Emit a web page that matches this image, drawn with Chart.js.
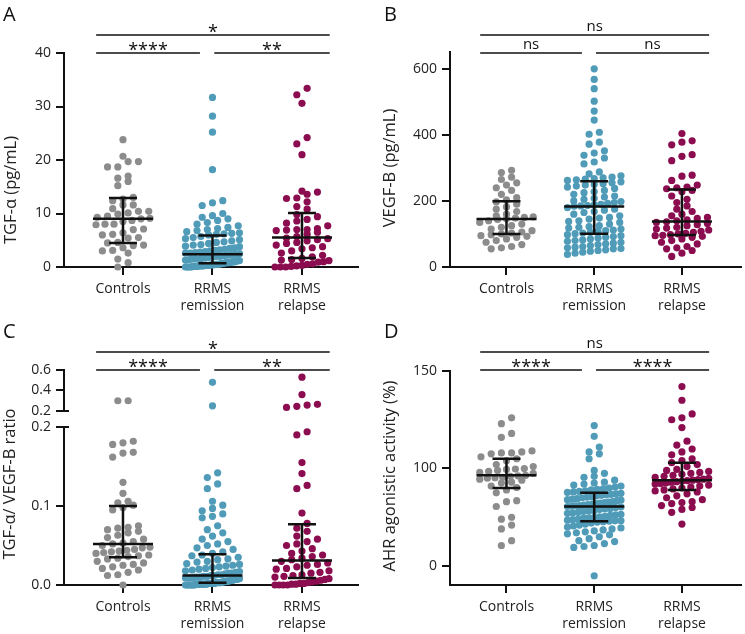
<!DOCTYPE html>
<html>
<head>
<meta charset="utf-8">
<script src="https://cdn.jsdelivr.net/npm/chart.js@4.4.0/dist/chart.umd.min.js"></script>
<style>
  body { margin: 0; background: #fff; }
  #wrap { position: relative; width: 745px; height: 634px; }
  .panel { position: absolute; }
</style>
</head>
<body>
<div id="wrap">
  <div class="panel" style="left:0;top:0;width:372px;height:317px"><canvas id="chartA"></canvas></div>
  <div class="panel" style="left:372px;top:0;width:373px;height:317px"><canvas id="chartB"></canvas></div>
  <div class="panel" style="left:0;top:317px;width:372px;height:317px"><canvas id="chartC"></canvas></div>
  <div class="panel" style="left:372px;top:317px;width:373px;height:317px"><canvas id="chartD"></canvas></div>
</div>
<script>
Chart.defaults.font.family = "'Open Sans', sans-serif";

// Groups on the x axis
const categories = ['Controls', ['RRMS', 'remission'], ['RRMS', 'relapse']];
const groupColors = ['#8c8c8c', '#4f9bb8', '#8b0d50'];

// A: TGF-alpha (pg/mL)
const tgfControls = [23.8, 20.7, 19.7, 19.7, 18.7, 18.7, 17.0, 16.6, 16.0, 15.2, 13.0, 12.7, 12.4, 11.6, 11.6, 10.9,
  10.4, 10.4, 10.1, 9.9, 9.5, 9.3, 9.1, 9.0, 8.7, 8.5, 8.0, 8.0, 7.9, 7.1, 7.0, 6.4, 6.1, 6.0, 5.5, 5.4, 4.6, 4.5,
  4.1, 4.0, 3.6, 3.1, 3.0, 2.6, 1.5, 0.8, 0.0];
const tgfRemission = [31.7, 28.2, 25.2, 18.2, 12.4, 12.0, 11.5, 10.0, 9.6, 9.3, 9.0, 8.7, 8.3, 8.0, 7.7, 7.4, 7.2,
  7.0, 6.8, 6.6, 6.4, 6.3, 6.2, 6.1, 6.0,
  5.7, 5.5, 5.3, 5.1, 4.9, 4.7, 4.6, 4.4, 4.2, 4.1, 3.9, 3.8, 3.6, 3.5, 3.3, 3.2, 3.1, 3.0, 2.9, 2.8, 2.7, 2.6, 2.6, 2.5, 2.4,
  2.3, 2.2, 2.1, 2.0, 2.0, 1.9, 1.8, 1.7, 1.6, 1.5, 1.5, 1.4, 1.3, 1.2, 1.2, 1.1, 1.0, 1.0, 0.9, 0.9, 0.8, 0.8, 0.8, 0.7, 0.7,
  0.6, 0.6, 0.5, 0.5, 0.5, 0.4, 0.4, 0.4, 0.3, 0.3, 0.3, 0.3, 0.2, 0.2, 0.2, 0.2, 0.1, 0.1, 0.1, 0.1, 0.0, 0.0, 0.0, 0.0, 0.0];
const tgfRelapse = [33.4, 32.2, 30.6, 24.2, 23.0, 21.0, 14.2, 14.0, 13.6, 12.9, 12.8, 12.2, 11.3, 10.8,
  9.8, 9.4, 8.9, 8.6, 8.2, 7.7, 7.2, 7.0, 7.0, 6.9, 6.8, 6.5, 6.1, 5.7,
  5.4, 5.3, 5.1, 4.9, 4.6, 4.4, 4.1, 3.8, 3.6, 3.4, 3.0, 2.6, 2.2, 1.9,
  1.6, 1.4, 1.3, 1.2, 1.0, 0.9, 0.6, 0.5, 0.3, 0.2, 0.1, 0.0, 0.0, 0.0];
const tgfMedian = [9.0, 2.4, 5.5];
const tgfQ1 = [4.5, 0.7, 1.7];
const tgfQ3 = [12.9, 5.9, 10.1];
const tgfTicks = [0, 10, 20, 30, 40];
const tgfSig = ['*', '****', '**'];

// B: VEGF-B (pg/mL)
const vegfControls = [293, 286, 272, 265, 255, 248, 240, 232, 220, 210, 203,
  197, 190, 182, 175, 168, 160, 155, 152, 150, 148, 146,
  144, 140, 135, 130, 125, 120, 115, 110, 106, 103, 100,
  98, 95, 93, 90, 85, 80, 75, 68, 62, 58, 55];
const vegfRemission = [600, 568, 540, 502, 472, 445, 408, 402, 378, 372, 352, 345, 338, 330, 318, 312, 288, 282,
  276, 272, 270, 268, 266, 264, 262,
  258, 255, 252, 250, 248, 245, 242, 238, 232, 228, 225, 220, 215, 212, 208, 205, 200, 198, 195, 193, 190, 188, 186, 185, 184,
  180, 175, 172, 168, 165, 160, 155, 150, 148, 145, 140, 138, 135, 130, 125, 122, 120, 118, 115, 112, 110, 108, 105, 103, 101,
  98, 95, 92, 90, 88, 85, 82, 80, 78, 75, 72, 70, 68, 65, 62, 60, 58, 56, 55, 52, 50, 48, 45, 42, 38];
const vegfRelapse = [404, 382, 378, 370, 340, 335, 322, 278, 275, 262, 248, 242, 240, 237,
  232, 228, 215, 205, 195, 185, 175, 168, 160, 155, 150, 147, 143, 140,
  137, 135, 132, 128, 125, 120, 118, 115, 112, 108, 105, 102, 100, 98,
  96, 95, 93, 90, 85, 80, 75, 70, 62, 58, 55, 50, 42, 32];
const vegfMedian = [145, 183, 138];
const vegfQ1 = [100, 101, 97];
const vegfQ3 = [199, 260, 235];
const vegfTicks = [0, 200, 400, 600];
const vegfSig = ['ns', 'ns', 'ns'];

// C: TGF-alpha / VEGF-B ratio (broken axis)
const ratioControls = [0.30, 0.30, 0.182, 0.180, 0.178, 0.168, 0.167, 0.162, 0.130, 0.116, 0.106, 0.104, 0.101,
  0.098, 0.095, 0.075, 0.073, 0.072, 0.070, 0.068, 0.066, 0.063, 0.060, 0.058, 0.055, 0.053,
  0.052, 0.050, 0.048, 0.047, 0.045, 0.044, 0.043, 0.042, 0.041, 0.040, 0.038, 0.037, 0.036,
  0.034, 0.033, 0.030, 0.028, 0.026, 0.025, 0.023, 0.021, 0.019, 0.016, 0.013, 0.012, 0.000];
const ratioRemission = [0.48, 0.25, 0.142, 0.136, 0.128, 0.122, 0.106, 0.101, 0.097, 0.094, 0.090, 0.087, 0.085,
  0.075, 0.070, 0.066, 0.062, 0.058, 0.055, 0.052, 0.050, 0.047, 0.045, 0.042, 0.040,
  0.038, 0.037, 0.035, 0.033, 0.032, 0.030, 0.029, 0.027, 0.026, 0.025, 0.024, 0.023, 0.022, 0.021, 0.020, 0.019,
  0.018, 0.017, 0.016, 0.015, 0.015, 0.014, 0.013, 0.013, 0.012,
  0.012, 0.011, 0.011, 0.010, 0.010, 0.009, 0.009, 0.009, 0.008, 0.008, 0.007, 0.007, 0.007, 0.006, 0.006, 0.006,
  0.005, 0.005, 0.005, 0.004, 0.004, 0.004, 0.003, 0.003, 0.003,
  0.003, 0.003, 0.002, 0.002, 0.002, 0.002, 0.002, 0.002, 0.001, 0.001, 0.001, 0.001, 0.001, 0.001, 0.001, 0.001,
  0.001, 0.000, 0.000, 0.000, 0.000, 0.000, 0.000, 0.000, 0.000];
const ratioRelapse = [0.53, 0.36, 0.265, 0.258, 0.245, 0.235, 0.194, 0.190, 0.155, 0.141, 0.126, 0.122, 0.091, 0.078,
  0.072, 0.068, 0.062, 0.058, 0.055, 0.052, 0.050, 0.046, 0.043, 0.040, 0.038, 0.036, 0.034, 0.032,
  0.030, 0.028, 0.026, 0.025, 0.023, 0.021, 0.020, 0.018, 0.016, 0.015, 0.013, 0.012, 0.011, 0.010,
  0.008, 0.007, 0.006, 0.005, 0.004, 0.003, 0.002, 0.002, 0.001, 0.001, 0.000, 0.000, 0.000, 0.000];
const ratioMedian = [0.052, 0.012, 0.031];
const ratioQ1 = [0.035, 0.003, 0.009];
const ratioQ3 = [0.100, 0.039, 0.077];
const ratioTicks = [0, 0.1, 0.2];
const ratioTicksUpper = [0.2, 0.4, 0.6];
const ratioSig = ['*', '****', '**'];

// D: AHR agonistic activity (%)
const ahrControls = [126, 123, 118, 116, 109, 108.5, 108, 108, 107.5, 106, 105,
  104, 102, 101, 100, 99.5, 99, 98, 97, 96, 95, 93,
  92.5, 92, 91, 90.5, 90, 89, 88, 86, 85, 82, 80.5,
  78, 75, 67, 66, 61, 50, 48, 42, 38, 26, 21];
const ahrRemission = [122, 116.5, 111, 108.5, 107.5, 105, 98, 95, 92, 91, 88, 86, 85, 84, 83, 82, 81, 80, 79, 78.5,
  78, 77, 76.5, 76, 75.5,
  74.5, 74, 73.5, 73, 72.5, 72, 71, 70.5, 70, 69, 68.5, 68, 67.5, 67, 66, 65.5, 65, 64.5, 64, 63.5, 63, 62.5, 62, 61.8, 61.5,
  61, 60.5, 60, 59, 58.5, 58, 57, 56.5, 56, 55, 54.5, 54, 53, 52.5, 52, 51, 50.5, 50, 49.5, 49, 48, 47.5, 47, 46.5, 46.3,
  46, 45.5, 45, 44, 43, 42, 41, 40, 39, 38, 37, 36, 35, 34, 33, 32, 30, 28, 26, 25, 23, 21, 20, 19, -10];
const ahrRelapse = [142, 135, 128, 126, 125, 121, 114, 112, 110, 108.5, 107, 105, 104, 103,
  102, 101, 99, 98, 97, 96, 95, 94, 93, 92, 91, 90, 89, 88.5,
  88, 87.5, 87, 86.5, 86, 85, 84.5, 84, 83, 82, 81, 80, 79, 78,
  77, 76, 74, 72, 70, 68, 66, 65, 64, 62, 60, 58, 55, 43];
const ahrMedian = [93, 61, 88];
const ahrQ1 = [80, 46, 78];
const ahrQ3 = [105, 75, 103];
const ahrTicks = [0, 100, 150];
const ahrSig = ['ns', '****', '****'];

// broken axis of C: 0-0.2 at full scale, a gap, then 0.2-0.6 squeezed
const ratioGap = 0.0203, ratioSqueeze = 0.1297;
const ratioUpper = v => 0.2 + ratioGap + (v - 0.2) * ratioSqueeze;
const ratioAxis = v => (v <= 0.2 ? v : ratioUpper(v));
// D axis: 0-100 on one scale, 100-150 stretched twice as much
const ahrAxis = v => (v <= 100 ? v : 100 + (v - 100) * 2);

// GraphPad-like scatter: values within one dot height go side by side in a row
function swarm(vals, pxPerY, pxPerX, center) {
  const dotGap = 10.3, maxSpread = 27, rowHeight = 6.5;
  const order = vals.map((v, i) => i).sort((a, b) => vals[a] - vals[b]);
  const off = new Array(vals.length).fill(0);
  let row = [], base = null;
  const place = () => {
    const n = row.length;
    const step = n > 1 ? Math.min(dotGap, 2 * maxSpread / (n - 1)) : 0;
    row.forEach((k, j) => { off[k] = (j - (n - 1) / 2) * step; });
    row = [];
  };
  order.forEach(k => {
    const py = vals[k] * pxPerY;
    if (base === null || py - base > rowHeight) { place(); base = py; }
    row.push(k);
  });
  place();
  return vals.map((v, i) => ({ x: center + off[i] / pxPerX, y: v }));
}

function panelExtras(p) {
  const tf = p.toAxis || (v => v);
  return {
    id: 'panelExtras',
    afterDatasetsDraw(chart) {
      const c = chart.ctx, xs = chart.scales.x, ys = chart.scales.y;
      c.save();
      c.strokeStyle = '#111';
      c.lineWidth = 2.5;
      for (let i = 0; i < 3; i++) {
        const cx = xs.getPixelForValue(i);
        const m = ys.getPixelForValue(tf(p.median[i]));
        const lo = ys.getPixelForValue(tf(p.q1[i]));
        const hi = ys.getPixelForValue(tf(p.q3[i]));
        c.beginPath();
        c.moveTo(cx - 30, m); c.lineTo(cx + 30, m);
        c.moveTo(cx, lo); c.lineTo(cx, hi);
        c.moveTo(cx - 14, lo); c.lineTo(cx + 14, lo);
        c.moveTo(cx - 14, hi); c.lineTo(cx + 14, hi);
        c.stroke();
      }
      c.restore();
    },
    afterDraw(chart) {
      const c = chart.ctx, xs = chart.scales.x, ys = chart.scales.y, area = chart.chartArea;
      c.save();
      // significance bars
      c.strokeStyle = '#111';
      c.fillStyle = '#111';
      c.lineWidth = 1.6;
      c.textAlign = 'center';
      c.textBaseline = 'alphabetic';
      const spans = [[-0.3, 2.31, 35], [-0.3, 0.86, 53], [1.02, 2.31, 53]];
      spans.forEach(([a, b, y], k) => {
        const x1 = xs.getPixelForValue(a), x2 = xs.getPixelForValue(b);
        c.beginPath(); c.moveTo(x1, y); c.lineTo(x2, y); c.stroke();
        if (p.sig[k] === 'ns') {
          c.font = "15px 'Open Sans'";
          c.fillText('ns', (x1 + x2) / 2, y - 4);
        } else {
          c.font = "18px 'Open Sans'";
          c.fillText(p.sig[k], (x1 + x2) / 2, y + 3);
        }
      });

      // broken y axis
      if (p.upperTicks) {
        const x = area.left;
        const yUp = ys.getPixelForValue(ratioUpper(0.2));
        const yLow = ys.getPixelForValue(0.2);
        c.lineWidth = 2;
        c.beginPath();
        c.moveTo(x, area.top - 1); c.lineTo(x, yUp);
        c.moveTo(x - 1, yUp); c.lineTo(x + 5, yUp);
        c.moveTo(x - 1, yLow); c.lineTo(x + 5, yLow);
        c.moveTo(x, yLow); c.lineTo(x, area.bottom + 1);
        c.stroke();
      }

      // panel letter
      c.textAlign = 'left';
      c.font = "20px 'Open Sans'";
      c.fillStyle = '#111';
      c.fillText(p.letter, p.letterX, 21);

      // y axis title
      c.save();
      c.translate(p.titleX, p.titleY);
      c.rotate(-Math.PI / 2);
      c.textAlign = 'center';
      c.textBaseline = 'middle';
      c.font = "16.5px 'Open Sans'";
      c.fillStyle = '#222';
      c.fillText(p.title, 0, 0);
      c.restore();
      c.restore();
    }
  };
}

function makePanel(id, p) {
  const ctx = document.getElementById(id).getContext('2d');
  const tf = p.toAxis || (v => v);
  const box = p.box;
  const pxY = (box.bottom - box.top) / (p.yMax - p.yMin);
  const pxX = (box.right - box.left) / (p.xMax - p.xMin);
  const tickValues = p.ticks.map(tf).concat((p.upperTicks || []).map(ratioUpper));
  const tickLabels = p.ticks.concat(p.upperTicks || []).map(p.fmt);

  const datasets = p.groups.map((vals, i) => ({
    data: swarm(vals.map(tf), pxY, pxX, i),
    backgroundColor: groupColors[i],
    pointRadius: 3.6,
    pointHoverRadius: 3.6,
    borderWidth: 0,
    clip: false
  }));

  return new Chart(ctx, {
    type: 'scatter',
    data: { datasets: datasets },
    options: {
      responsive: true,
      maintainAspectRatio: false,
      animation: false,
      events: [],
      layout: { padding: { top: box.top, right: p.width - box.right, left: 0, bottom: 0 } },
      plugins: { legend: { display: false }, tooltip: { enabled: false } },
      scales: {
        x: {
          type: 'linear',
          min: p.xMin,
          max: p.xMax,
          afterBuildTicks: s => { s.ticks = [0, 1, 2].map(v => ({ value: v })); },
          afterFit: s => { s.height = 317 - box.bottom; },
          ticks: {
            callback: (v, i) => categories[i],
            color: '#222',
            font: { size: 14 },
            padding: 6,
            maxRotation: 0,
            autoSkip: false
          },
          grid: { drawOnChartArea: false, tickLength: 8, lineWidth: 2, color: '#111' },
          border: { width: 2, color: '#111' }
        },
        y: {
          type: 'linear',
          min: p.yMin,
          max: p.yMax,
          afterBuildTicks: s => { s.ticks = tickValues.map(v => ({ value: v })); },
          afterFit: s => { s.width = box.left; },
          ticks: {
            callback: (v, i) => tickLabels[i],
            color: '#222',
            font: { size: 14 },
            padding: 5,
            autoSkip: false
          },
          grid: { drawOnChartArea: false, tickLength: 8, lineWidth: 2, color: '#111' },
          border: { display: !p.upperTicks, width: 2, color: '#111' }
        }
      }
    },
    plugins: [panelExtras(p)]
  });
}

makePanel('chartA', {
  groups: [tgfControls, tgfRemission, tgfRelapse],
  median: tgfMedian, q1: tgfQ1, q3: tgfQ3, sig: tgfSig,
  ticks: tgfTicks, fmt: v => String(v),
  yMin: 0, yMax: 40, xMin: -0.659, xMax: 2.626,
  width: 372, box: { left: 64, right: 358, top: 53, bottom: 267 },
  letter: 'A', letterX: 3, title: 'TGF-α (pg/mL)', titleX: 11, titleY: 190
});

makePanel('chartB', {
  groups: [vegfControls, vegfRemission, vegfRelapse],
  median: vegfMedian, q1: vegfQ1, q3: vegfQ3, sig: vegfSig,
  ticks: vegfTicks, fmt: v => String(v),
  yMin: 0, yMax: 651, xMin: -0.644, xMax: 2.678,
  width: 373, box: { left: 78, right: 372, top: 52, bottom: 267 },
  letter: 'B', letterX: 12, title: 'VEGF-B (pg/mL)', titleX: 18, titleY: 168
});

makePanel('chartC', {
  groups: [ratioControls, ratioRemission, ratioRelapse],
  median: ratioMedian, q1: ratioQ1, q3: ratioQ3, sig: ratioSig,
  ticks: ratioTicks, upperTicks: ratioTicksUpper, fmt: v => v.toFixed(1),
  toAxis: ratioAxis,
  yMin: 0, yMax: ratioUpper(0.6), xMin: -0.659, xMax: 2.626,
  width: 372, box: { left: 64, right: 358, top: 53, bottom: 268 },
  letter: 'C', letterX: 3, title: 'TGF-α/ VEGF-B ratio', titleX: 10, titleY: 167
});

makePanel('chartD', {
  groups: [ahrControls, ahrRemission, ahrRelapse],
  median: ahrMedian, q1: ahrQ1, q3: ahrQ3, sig: ahrSig,
  ticks: ahrTicks, fmt: v => String(v),
  toAxis: ahrAxis,
  yMin: -19.5, yMax: 200, xMin: -0.644, xMax: 2.678,
  width: 373, box: { left: 78, right: 372, top: 54, bottom: 268 },
  letter: 'D', letterX: 12, title: 'AHR agonistic activity (%)', titleX: 18, titleY: 159
});
</script>
</body>
</html>
